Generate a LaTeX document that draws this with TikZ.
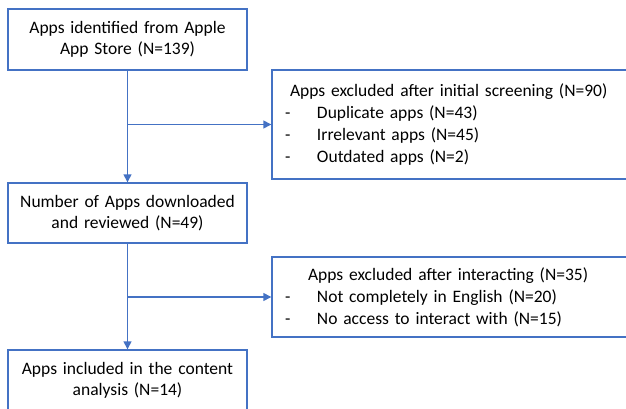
\documentclass[tikz,border=0pt]{standalone}
\usepackage{fontspec}
\setmainfont{Carlito}
\usepackage{xcolor}
\usepackage{tikz}
\usetikzlibrary{arrows.meta}

\definecolor{flowblue}{HTML}{4472C4}
\newcommand{\dashitem}[1]{\makebox[32pt][l]{-}#1}

\begin{document}
\begin{tikzpicture}[x=1pt, y=-1pt,
    % Node styles
    box/.style={rectangle, draw=flowblue, line width=1.4pt, minimum width=239pt, minimum height=61pt, text centered, text width=232pt, inner xsep=3pt, font=\fontsize{17.5}{21.5}\selectfont},
    exclbox/.style={rectangle, draw=flowblue, line width=1.4pt, minimum width=368pt, text width=342pt, inner xsep=13pt, align=left, font=\fontsize{17.5}{22}\selectfont},
    arrow/.style={-{Triangle[length=8pt, width=8pt]}, line width=1.4pt, draw=flowblue}
]

% Page frame
\clip (0,0) rectangle (626,409);

% Main boxes
\node[box] (identified) at (127.5, 39.5) {Apps identified from Apple\\App Store (N=139)};
\node[box, minimum height=60pt] (downloaded) at (127.5, 213) {Number of Apps downloaded\\and reviewed (N=49)};
\node[box] (included) at (127.5, 380.5) {Apps included in the content\\analysis (N=14)};

% Exclusion boxes
\node[exclbox, minimum height=109pt] (excluded1) at (456, 124.5) {\hspace*{5pt}Apps excluded after initial screening (N=90)\\
\dashitem{Duplicate apps (N=43)}\\
\dashitem{Irrelevant apps (N=45)}\\
\dashitem{Outdated apps (N=2)}};
\node[exclbox, minimum height=80pt] (excluded2) at (456, 297) {\hspace*{23pt}Apps excluded after interacting (N=35)\\
\dashitem{Not completely in English (N=20)}\\
\dashitem{No access to interact with (N=15)}};

% Branch points
\coordinate (split1) at (identified.south |- excluded1.west);
\coordinate (split2) at (downloaded.south |- excluded2.west);

% Arrows
\draw[arrow] (identified.south) -- (downloaded.north);
\draw[arrow] (split1) -- (excluded1.west);
\draw[arrow] (downloaded.south) -- (included.north);
\draw[arrow] (split2) -- (excluded2.west);

\end{tikzpicture}
\end{document}
